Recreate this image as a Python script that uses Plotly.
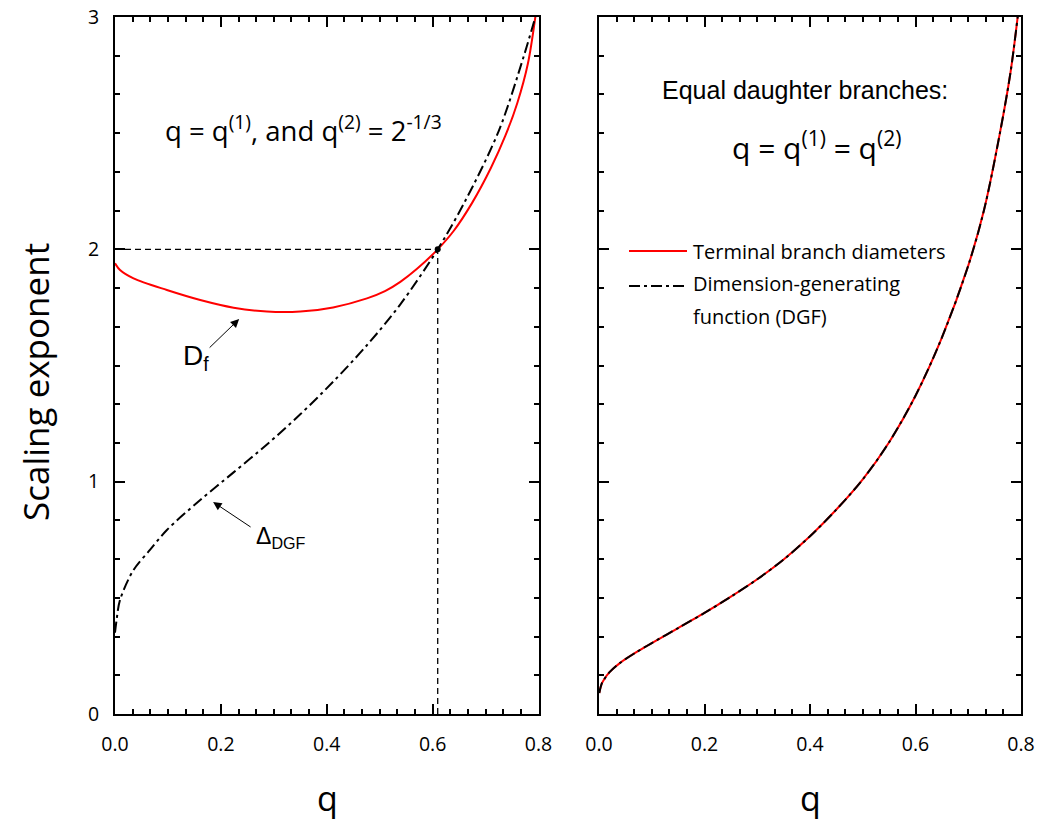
import plotly.graph_objects as go

# ---------------- data ----------------
# Left panel: q = q(1), q(2) = 2^(-1/3)
q_df = [0.0, 0.0095, 0.035, 0.098, 0.161, 0.224, 0.287, 0.35, 0.412, 0.476,
        0.51, 0.539, 0.57, 0.6096, 0.64, 0.6746, 0.71, 0.7376, 0.76, 0.78, 0.794]
df_vals = [1.94, 1.911, 1.875, 1.825, 1.782, 1.749, 1.732, 1.732, 1.75, 1.789,
           1.82, 1.86, 1.915, 2.0, 2.08, 2.2, 2.35, 2.49, 2.63, 2.8, 3.0]

q_dgf = [0.0, 0.003, 0.0095, 0.035, 0.066, 0.098, 0.161, 0.224, 0.287, 0.35,
         0.412, 0.475, 0.538, 0.6096, 0.662, 0.725, 0.772, 0.794]
dgf_vals = [0.35, 0.405, 0.491, 0.62, 0.706, 0.792, 0.921, 1.04, 1.16, 1.29,
            1.43, 1.585, 1.76, 2.0, 2.21, 2.51, 2.83, 3.0]

# Crossing point (reference lines)
q_cross = [0.6096]
y_cross = [2.0]

# Right panel: equal daughter branches (both curves coincide)
q_eq = [0.0005, 0.005, 0.01, 0.02, 0.04, 0.07, 0.1, 0.15, 0.2, 0.25, 0.3, 0.35,
        0.4, 0.45, 0.5, 0.55, 0.6, 0.65, 0.7, 0.73, 0.76, 0.78, 0.7937]
term_vals = [0.09, 0.13, 0.15, 0.18, 0.22, 0.265, 0.305, 0.37, 0.435, 0.505, 0.58,
             0.665, 0.765, 0.88, 1.01, 1.17, 1.37, 1.62, 1.93, 2.17, 2.5, 2.76, 3.0]
dgf_eq_vals = term_vals

x_ticks = [0.0, 0.2, 0.4, 0.6, 0.8]
x_ticklabels = ["0.0", "0.2", "0.4", "0.6", "0.8"]
y_ticks = [0, 1, 2, 3]
y_ticklabels = ["0", "1", "2", "3"]

# ---------------- figure ----------------
W, H = 1042, 821
RED = "#ff0000"
DASHDOT = "11px,4px,3px,4px"
SM = 0.9


def fx(t):  # pixel x -> paper fraction
    return t / W


def fy(t):  # pixel y (from top) -> paper fraction
    return 1 - t / H


fig = go.Figure()

# left panel reference lines
fig.add_trace(go.Scatter(x=[0.0, q_cross[0]], y=[y_cross[0], y_cross[0]], mode="lines",
                         line=dict(color="black", width=1.3, dash="6px,4px"),
                         xaxis="x", yaxis="y", showlegend=False, hoverinfo="skip"))
fig.add_trace(go.Scatter(x=[q_cross[0], q_cross[0]], y=[0.0, y_cross[0]], mode="lines",
                         line=dict(color="black", width=1.3, dash="6px,4px"),
                         xaxis="x", yaxis="y", showlegend=False, hoverinfo="skip"))
fig.add_trace(go.Scatter(x=q_df, y=df_vals, mode="lines",
                         line=dict(color=RED, width=2, shape="spline", smoothing=SM),
                         xaxis="x", yaxis="y", showlegend=False))
fig.add_trace(go.Scatter(x=q_dgf, y=dgf_vals, mode="lines",
                         line=dict(color="black", width=2, dash=DASHDOT, shape="spline", smoothing=SM),
                         xaxis="x", yaxis="y", showlegend=False))
fig.add_trace(go.Scatter(x=q_cross, y=y_cross, mode="markers", marker=dict(color="black", size=6),
                         xaxis="x", yaxis="y", showlegend=False))

# right panel
fig.add_trace(go.Scatter(x=q_eq, y=term_vals, mode="lines",
                         line=dict(color=RED, width=2, shape="spline", smoothing=SM),
                         xaxis="x2", yaxis="y2", showlegend=False))
fig.add_trace(go.Scatter(x=q_eq, y=dgf_eq_vals, mode="lines",
                         line=dict(color="black", width=2, dash=DASHDOT, shape="spline", smoothing=SM),
                         xaxis="x2", yaxis="y2", showlegend=False))

ydom = [fy(714), fy(17)]
common_x = dict(range=[0, 0.8], tickvals=x_ticks, ticktext=x_ticklabels,
                showline=True, linecolor="black", linewidth=2, mirror="ticks",
                ticks="inside", ticklen=10, tickwidth=1.5, tickcolor="black",
                showgrid=False, zeroline=False, automargin=False,
                tickfont=dict(family="Open Sans", size=19.5, color="black"),
                ticklabelstandoff=12, ticklabeloverflow="allow",
                minor=dict(dtick=0.2 / 6, tick0=0, ticks="inside", ticklen=5, tickwidth=1.5,
                           tickcolor="black", showgrid=False))
common_y = dict(range=[0, 3], tickvals=y_ticks, ticktext=y_ticklabels,
                showline=True, linecolor="black", linewidth=2, mirror="ticks",
                ticks="inside", ticklen=10, tickwidth=1.5, tickcolor="black",
                showgrid=False, zeroline=False, automargin=False,
                tickfont=dict(family="Open Sans", size=19.5, color="black"),
                ticklabelstandoff=10, ticklabeloverflow="allow",
                minor=dict(dtick=1 / 6, tick0=0, ticks="inside", ticklen=5, tickwidth=1.5,
                           tickcolor="black", showgrid=False))

fig.update_layout(
    width=W, height=H, autosize=False,
    margin=dict(l=0, r=0, t=0, b=0, pad=0, autoexpand=False),
    paper_bgcolor="white", plot_bgcolor="white",
    showlegend=False,
    xaxis=dict(domain=[fx(115), fx(538.5)], anchor="y", **common_x),
    yaxis=dict(domain=ydom, anchor="x", **common_y),
    xaxis2=dict(domain=[fx(599), fx(1021)], anchor="y2", **common_x),
    yaxis2=dict(domain=ydom, anchor="x2", showticklabels=False, **common_y),
)


def note(text, x, y, size, family="Open Sans", xanchor="center", angle=0):
    return dict(text=text, x=fx(x), y=fy(y), xref="paper", yref="paper",
                xanchor=xanchor, yanchor="middle", textangle=angle, showarrow=False,
                font=dict(family=family, size=size, color="black"))


ann = []
# axis titles
ann.append(note("Scaling exponent", 35, 382, 35, angle=-90))
ann.append(note("q", 327, 798, 34))
ann.append(note("q", 810, 798, 34))
# panel texts
ann.append(note("q = q<sup>(1)</sup>, and q<sup>(2)</sup> = 2<sup>-1/3</sup>", 303, 128, 27.5))
ann.append(note("Equal daughter branches:", 805, 90, 25, family="Liberation Sans"))
ann.append(note("q = q<sup>(1)</sup> = q<sup>(2)</sup>", 816, 146, 30))
# curve labels
ann.append(note("D<sub>f</sub>", 196, 358, 28, family="Liberation Sans"))
ann.append(note("Δ<sub>DGF</sub>", 281, 537, 23, family="Liberation Sans"))
# arrows
ann.append(dict(text="", x=0.2345, y=1.70, xref="x", yref="y", ax=-31, ay=30,
                showarrow=True, arrowhead=2, arrowsize=1.7, arrowwidth=1, arrowcolor="black"))
ann.append(dict(text="", x=0.1853, y=0.9126, xref="x", yref="y", ax=39, ay=26,
                showarrow=True, arrowhead=2, arrowsize=1.7, arrowwidth=1, arrowcolor="black"))
# legend texts
for t, yy in [("Terminal branch diameters", 251), ("Dimension-generating", 284), ("function (DGF)", 316)]:
    ann.append(note(t, 691, yy, 20, xanchor="left"))
fig.update_layout(annotations=ann)

# legend samples
fig.add_shape(type="line", xref="paper", yref="paper", x0=fx(629), x1=fx(687), y0=fy(251), y1=fy(251),
              line=dict(color=RED, width=2))
fig.add_shape(type="line", xref="paper", yref="paper", x0=fx(629), x1=fx(687), y0=fy(286), y1=fy(286),
              line=dict(color="black", width=2, dash=DASHDOT))

fig.write_html("out.html", post_script="document.body.style.margin='0';")
